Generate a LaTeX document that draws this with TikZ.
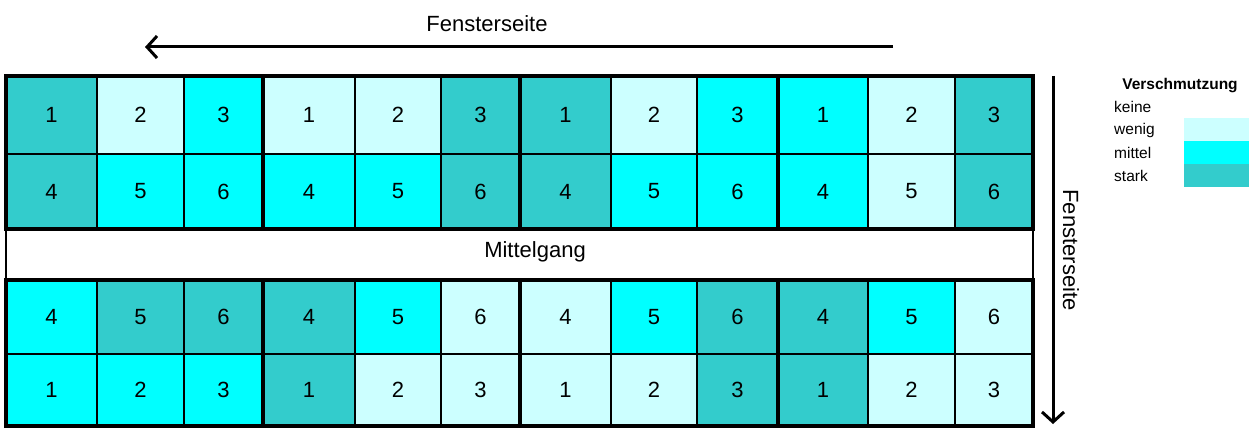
\documentclass[tikz,border=0pt]{standalone}
\usepackage{fontspec}
\setmainfont{Liberation Sans}
\usetikzlibrary{arrows.meta}
\definecolor{cW}{HTML}{CCFFFF}
\definecolor{cM}{HTML}{00FFFF}
\definecolor{cS}{HTML}{33CCCC}
\begin{document}
\begin{tikzpicture}[x=1pt,y=-1pt,
  cell/.style={draw=black,line width=2pt,inner sep=0pt,font=\fontsize{22}{26}\selectfont},
  thickline/.style={draw=black,line width=4pt},
  bigtext/.style={font=\fontsize{22}{26}\selectfont,inner sep=0pt},
  legtext/.style={font=\fontsize{15.5}{18}\selectfont,inner sep=0pt,anchor=west},
  swatch/.style={inner sep=0pt,minimum width=65pt,minimum height=23pt},
  arrowline/.style={line width=3pt,-{Straight Barb[length=10pt,width=22pt,line width=3pt]}}]
\useasboundingbox (0,0) rectangle (1254,428);
\def\xarr{{6,97,184,263,355,441,520,611,697,778,868,955,1033}}
% row A (top, seats 1-3)
\foreach \i/\c/\t in {0/S/1,1/W/2,2/M/3,3/W/1,4/W/2,5/S/3,6/S/1,7/W/2,8/M/3,9/M/1,10/W/2,11/S/3}{
  \pgfmathsetmacro\xa{\xarr[\i]}
  \pgfmathsetmacro\xb{\xarr[\i+1]}
  \node[cell,fill=c\c,minimum width={\xb-\xa},minimum height=78] (a\i) at ({(\xa+\xb)/2},115) {\t};
}
% row B (seats 4-6)
\foreach \i/\c/\t in {0/S/4,1/M/5,2/M/6,3/M/4,4/M/5,5/S/6,6/S/4,7/M/5,8/M/6,9/M/4,10/W/5,11/S/6}{
  \pgfmathsetmacro\xa{\xarr[\i]}
  \pgfmathsetmacro\xb{\xarr[\i+1]}
  \node[cell,fill=c\c,minimum width={\xb-\xa},minimum height=75] (b\i) at ({(\xa+\xb)/2},191.5) {\t};
}
% row C (lower, seats 4-6)
\foreach \i/\c/\t in {0/M/4,1/S/5,2/S/6,3/S/4,4/M/5,5/W/6,6/W/4,7/M/5,8/S/6,9/S/4,10/M/5,11/W/6}{
  \pgfmathsetmacro\xa{\xarr[\i]}
  \pgfmathsetmacro\xb{\xarr[\i+1]}
  \node[cell,fill=c\c,minimum width={\xb-\xa},minimum height=74] (c\i) at ({(\xa+\xb)/2},317) {\t};
}
% row D (lower, seats 1-3)
\foreach \i/\c/\t in {0/M/1,1/M/2,2/M/3,3/S/1,4/W/2,5/W/3,6/W/1,7/W/2,8/S/3,9/S/1,10/W/2,11/W/3}{
  \pgfmathsetmacro\xa{\xarr[\i]}
  \pgfmathsetmacro\xb{\xarr[\i+1]}
  \node[cell,fill=c\c,minimum width={\xb-\xa},minimum height=72] (d\i) at ({(\xa+\xb)/2},390) {\t};
}
% aisle
\node[draw=black,line width=2pt,fill=white,minimum width=1027,minimum height=51,inner sep=0pt] (mg) at (519.5,254.5) {};
\node[bigtext] (mgt) at (535,252) {Mittelgang};
% thick block outlines
\draw[thickline] (6,76) rectangle (1033,229);
\draw[thickline] (6,280) rectangle (1033,426);
\foreach \x in {263,520,778}{
  \draw[thickline] (\x,76) -- (\x,229);
  \draw[thickline] (\x,280) -- (\x,426);
}
% top arrow and label
\coordinate (ta) at (893,47);
\coordinate (tb) at (145,47);
\draw[arrowline] (ta) -- (tb);
\node[bigtext] (tl) at (487,24) {Fensterseite};
% right arrow and label
\coordinate (ra) at (1053,76);
\coordinate (rb) at (1053,424);
\draw[arrowline] (ra) -- (rb);
\node[bigtext,rotate=-90] (rl) at (1071,250) {Fensterseite};
% legend
\node[font=\bfseries\fontsize{15.5}{18}\selectfont,inner sep=0pt] (lt) at (1180,86) {Verschmutzung};
\node[legtext] (l0) at (1114,107) {keine};
\node[legtext] (l1) at (1114,130) {wenig};
\node[legtext] (l2) at (1114,153) {mittel};
\node[legtext] (l3) at (1114,176) {stark};
\node[swatch,fill=cW] (s1) at (1216.5,129.5) {};
\node[swatch,fill=cM] (s2) at (1216.5,152.5) {};
\node[swatch,fill=cS] (s3) at (1216.5,175.5) {};
\end{tikzpicture}
\end{document}
